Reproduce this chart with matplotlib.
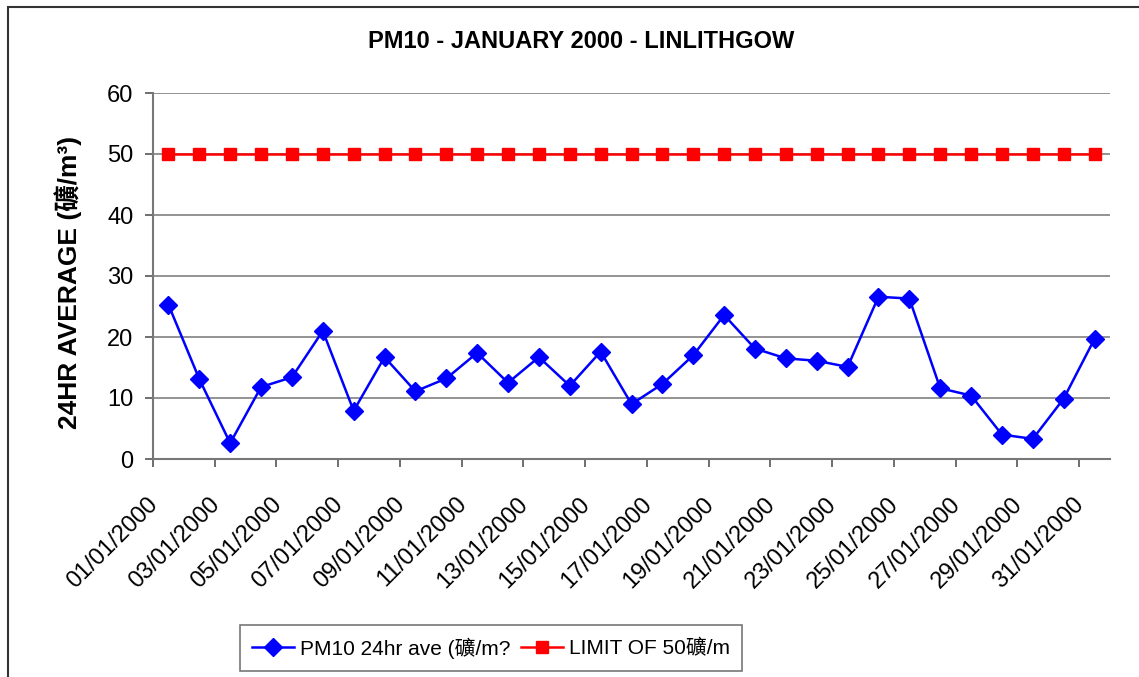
import matplotlib
matplotlib.use('Agg')
import matplotlib.pyplot as plt
import numpy as np
from matplotlib.patches import Rectangle

plt.rcParams['font.family'] = ['Liberation Sans', 'Noto Sans CJK SC', 'DejaVu Sans']

# Dados
dias = ['%02d/01/2000' % d for d in range(1, 32)]
pm10 = [25.3, 13.1, 2.6, 11.8, 13.4, 21.0, 7.9, 16.7, 11.1, 13.2,
        17.4, 12.5, 16.7, 12.0, 17.6, 9.0, 12.3, 17.0, 23.6, 18.1,
        16.5, 16.1, 15.1, 26.6, 26.3, 11.6, 10.4, 4.0, 3.3, 9.9, 19.7]
limite = [50] * 31

fig = plt.figure(figsize=(11.39, 6.77), dpi=100)

# Moldura externa (estilo Excel)
fig.patches.append(Rectangle((8 / 1139, -0.05), 1.2, 1 - 7 / 677 + 0.05,
                             transform=fig.transFigure, fill=False,
                             edgecolor='#333333', linewidth=1.5))

ax = fig.add_axes([153 / 1139, 1 - 459 / 677, (1110 - 153) / 1139, (459 - 93) / 677])

x = np.arange(len(dias)) + 0.5
ax.plot(x, pm10, color='#0000FF', linewidth=1.8, marker='D', markersize=9,
        label='PM10 24hr ave (礦/m?')
ax.plot(x, limite, color='#FF0000', linewidth=1.8, marker='s', markersize=9,
        label='LIMIT OF 50礦/m')

ax.set_xlim(0, len(dias))
ax.set_ylim(0, 60)
ax.set_yticks(range(0, 61, 10))
ax.yaxis.grid(True, color='#808080', linewidth=1.2)
ax.set_axisbelow(True)

# Marcas a cada 2 categorias; rótulos terminam junto das marcas
ax.set_xticks(np.arange(0, len(dias), 2))
ax.set_xticklabels([])
ax.set_xticks(x[::2] - 0.45, minor=True)
ax.set_xticklabels(dias[::2], minor=True, rotation=45, ha='right', va='center',
                   rotation_mode='anchor', fontsize=17)
ax.tick_params(axis='x', which='minor', length=0, pad=30)
ax.tick_params(axis='x', which='major', length=6, width=1.2, color='#555555')
ax.tick_params(axis='y', length=6, width=1.2, color='#555555', labelsize=17, pad=8)

for lado in ['top', 'right']:
    ax.spines[lado].set_visible(False)
for lado in ['left', 'bottom']:
    ax.spines[lado].set_color('#777777')
    ax.spines[lado].set_linewidth(1.5)

fig.text(581 / 1139, 1 - 42 / 677, 'PM10 - JANUARY 2000 - LINLITHGOW',
         ha='center', va='center', fontsize=17, fontweight='bold')
fig.text(68 / 1139, 1 - 282 / 677, '24HR AVERAGE (礦/m³)', rotation=90,
         ha='center', va='center', fontsize=19, fontweight='bold')

leg = fig.legend(loc='center', bbox_to_anchor=(491 / 1139, 1 - 648 / 677),
                 ncol=2, fontsize=15, frameon=True, fancybox=False,
                 edgecolor='#555555', handlelength=2.0, columnspacing=0.5,
                 handletextpad=0.3, borderpad=0.6, borderaxespad=0)
leg.get_frame().set_linewidth(1.2)

fig.savefig('out.png', dpi=100)
